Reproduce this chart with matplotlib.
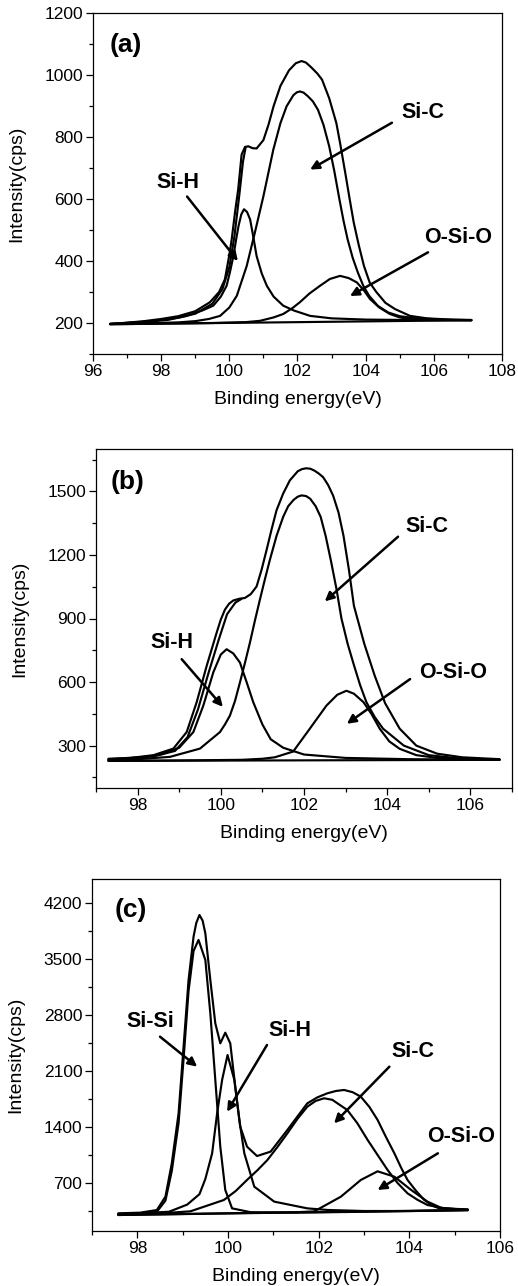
import matplotlib
matplotlib.use("Agg")
import matplotlib.pyplot as plt
from matplotlib.ticker import MultipleLocator

plt.rcParams['font.family'] = ['Liberation Sans', 'DejaVu Sans']

# ---------------- Panel (a) data ----------------
a_env_x = [96.5, 97.0, 97.5, 98.0, 98.5, 99.0, 99.43, 99.7, 99.87, 100.0, 100.07, 100.17, 100.26, 100.36,
           100.46, 100.56, 100.68, 100.8, 101.0, 101.15, 101.3, 101.5, 101.75, 101.95, 102.12, 102.25, 102.4,
           102.58, 102.72, 102.93, 103.14, 103.25, 103.4, 103.53, 103.65, 103.8, 103.95, 104.12, 104.32, 104.58,
           104.86, 105.3, 105.8, 106.5, 107.1]
a_env_y = [197, 201, 206, 213, 222, 238, 267, 300, 341, 420, 470, 560, 631, 743,
           768, 770, 764, 763, 790, 840, 900, 965, 1015, 1038, 1045, 1040, 1025,
           1005, 985, 925, 845, 780, 685, 600, 524, 450, 384, 330, 299, 265,
           245, 223, 215, 211, 210]
a_fit_x = [96.5, 97.5, 98.5, 99.0, 99.5, 99.8, 100.0, 100.15, 100.3, 100.4, 100.48]
a_fit_y = [197, 204, 217, 230, 262, 310, 380, 480, 620, 720, 768]
a_sic_x = [96.5, 97.5, 98.5, 99.0, 99.4, 99.73, 100.0, 100.22, 100.51, 100.75, 101.0, 101.29, 101.5, 101.68,
           101.88, 101.98, 102.07, 102.18, 102.3, 102.45, 102.6, 102.76, 102.93, 103.08, 103.23, 103.35, 103.47,
           103.62, 103.77, 103.93, 104.1, 104.36, 104.66, 105.0, 105.5, 106.3, 107.1]
a_sic_y = [197, 199, 202, 206, 213, 223, 250, 288, 384, 492, 609, 759, 845, 899,
           935, 944, 947, 943, 932, 915, 888, 840, 770, 690, 599, 530, 470,
           410, 363, 320, 288, 255, 234, 222, 215, 211, 209]
a_sih_x = [96.5, 97.5, 98.2, 98.75, 99.2, 99.53, 99.75, 99.92, 100.02, 100.12, 100.2, 100.27, 100.35, 100.43,
           100.52, 100.61, 100.7, 100.8, 100.95, 101.1, 101.3, 101.58, 101.9, 102.37, 103.0, 104.0, 105.0,
           106.0, 107.1]
a_sih_y = [197, 203, 210, 223, 240, 256, 285, 320, 365, 416, 470, 513, 550, 567,
           558, 534, 480, 416, 360, 320, 285, 256, 240, 223, 215, 211, 210,
           209, 209]
a_osio_x = [96.5, 98.0, 99.5, 100.5, 100.9, 101.3, 101.58, 101.85, 102.07, 102.35, 102.66, 102.95, 103.25,
            103.5, 103.74, 103.95, 104.13, 104.4, 104.71, 105.0, 105.3, 106.0, 107.1]
a_osio_y = [196, 198, 200, 203, 207, 218, 229, 248, 267, 295, 320, 342, 352,
            345, 331, 305, 277, 250, 229, 218, 213, 210, 209]
a_bg_x = [96.5, 107.1]
a_bg_y = [196, 209]

# ---------------- Panel (b) data ----------------
b_env_x = [97.3, 97.8, 98.38, 98.86, 99.18, 99.42, 99.66, 99.9, 100.0, 100.1, 100.2, 100.3, 100.44, 100.58,
           100.72, 100.86, 100.98, 101.1, 101.22, 101.34, 101.5, 101.66, 101.85, 101.95, 102.05, 102.15, 102.25,
           102.35, 102.46, 102.58, 102.7, 102.83, 102.95, 103.08, 103.2, 103.45, 103.7, 103.95, 104.3, 104.7,
           105.2, 105.8, 106.7]
b_env_y = [238, 241, 255, 286, 364, 505, 676, 833, 895, 942, 970, 985, 993, 997,
           1015, 1051, 1130, 1223, 1320, 1411, 1490, 1552, 1595, 1605, 1609, 1607, 1598,
           1585, 1567, 1530, 1480, 1400, 1290, 1130, 960, 780, 630, 500, 380, 300,
           262, 245, 236]
b_fit_x = [97.3, 98.4, 98.9, 99.2, 99.45, 99.7, 99.95, 100.15, 100.35, 100.5]
b_fit_y = [236, 250, 275, 340, 470, 640, 800, 920, 975, 993]
b_sic_x = [97.3, 98.0, 98.78, 99.5, 99.98, 100.1, 100.22, 100.34, 100.46, 100.58, 100.7, 100.82, 100.94,
           101.06, 101.18, 101.34, 101.5, 101.62, 101.75, 101.85, 101.94, 102.05, 102.15, 102.28, 102.4, 102.52,
           102.65, 102.78, 102.9, 103.05, 103.2, 103.35, 103.5, 103.7, 103.9, 104.4, 105.0, 105.8, 106.7]
b_sic_y = [231, 236, 247, 286, 364, 400, 442, 510, 598, 690, 786, 890, 989,
           1085, 1177, 1290, 1380, 1430, 1460, 1475, 1481, 1478, 1465, 1430, 1380, 1290,
           1170, 1040, 900, 780, 680, 585, 505, 435, 380, 300, 255, 238, 233]
b_sih_x = [97.3, 98.0, 98.6, 99.0, 99.34, 99.58, 99.82, 100.0, 100.14, 100.3, 100.46, 100.62, 100.78, 101.0,
           101.2, 101.5, 102.0, 103.0, 104.5, 106.7]
b_sih_y = [233, 240, 260, 290, 364, 489, 646, 730, 755, 735, 692, 600, 505, 400,
           330, 290, 258, 242, 236, 233]
b_osio_x = [97.3, 99.0, 100.5, 101.0, 101.3, 101.74, 102.14, 102.54, 102.8, 103.02, 103.2, 103.43, 103.62,
            103.82, 104.05, 104.3, 104.7, 105.2, 106.7]
b_osio_y = [228, 230, 233, 238, 245, 272, 380, 489, 540, 559, 545, 505, 450,
            380, 320, 285, 255, 242, 234]
b_bg_x = [97.3, 106.7]
b_bg_y = [228, 233]

# ---------------- Panel (c) data ----------------
c_env_x = [97.58, 98.06, 98.43, 98.62, 98.76, 98.91, 99.02, 99.13, 99.24, 99.3, 99.37, 99.44, 99.5, 99.61,
           99.72, 99.83, 99.94, 100.05, 100.16, 100.27, 100.42, 100.64, 100.94, 101.31, 101.53, 101.75, 101.97,
           102.19, 102.38, 102.56, 102.75, 102.93, 103.12, 103.3, 103.48, 103.67, 103.82, 103.96, 104.15,
           104.33, 104.5, 104.66, 105.29]
c_env_y = [321, 329, 362, 529, 946, 1571, 2404, 3238, 3779, 3950, 4050, 3980, 3821, 3238,
           2696, 2446, 2579, 2446, 1904, 1404, 1154, 1037, 1092, 1363, 1530, 1696, 1770,
           1821, 1850, 1863, 1835, 1779, 1650, 1488, 1280, 1071, 890, 738, 600,
           488, 420, 383, 371]
c_sisi_x = [97.58, 98.0, 98.43, 98.62, 98.76, 98.91, 99.02, 99.13, 99.24, 99.35, 99.5, 99.61, 99.72, 99.83,
            99.94, 100.09, 100.5, 101.5, 103.0, 105.29]
c_sisi_y = [310, 318, 340, 480, 850, 1450, 2250, 3100, 3600, 3738, 3488, 2821, 1988, 1154,
            613, 383, 335, 330, 340, 360]
c_sih_x = [97.58, 98.2, 98.7, 99.1, 99.37, 99.5, 99.65, 99.76, 99.87, 99.99, 100.14, 100.25, 100.36, 100.58,
           101.02, 101.75, 102.19, 103.0, 104.0, 105.29]
c_sih_y = [312, 325, 341, 430, 560, 750, 1071, 1571, 1988, 2300, 1988, 1488, 1071, 654,
           467, 383, 363, 350, 350, 362]
c_sic_x = [97.58, 98.5, 99.17, 99.91, 100.17, 100.42, 100.65, 100.87, 101.09, 101.31, 101.53, 101.75, 101.93,
           102.12, 102.3, 102.63, 102.85, 103.08, 103.3, 103.52, 103.74, 103.96, 104.18, 104.4, 104.8, 105.29]
c_sic_y = [305, 320, 346, 488, 600, 738, 860, 988, 1150, 1321, 1500, 1654, 1725,
           1759, 1740, 1613, 1450, 1238, 1050, 863, 700, 571, 490, 425, 380, 365]
c_osio_x = [97.58, 101.5, 101.9, 102.12, 102.49, 102.93, 103.3, 103.67, 104.04, 104.4, 104.7, 105.29]
c_osio_y = [300, 335, 345, 413, 529, 738, 846, 779, 613, 467, 390, 362]
c_bg_x = [97.58, 105.29]
c_bg_y = [300, 362]

# ---------------- Axes settings ----------------
a_xlim, a_ylim = (96, 108), (100, 1200)
b_xlim, b_ylim = (97, 107), (100, 1700)
c_xlim, c_ylim = (97, 106), (100, 4500)
a_yticks = [200, 400, 600, 800, 1000, 1200]
b_yticks = [300, 600, 900, 1200, 1500]
c_yticks = [700, 1400, 2100, 2800, 3500, 4200]
a_xticks = [96, 98, 100, 102, 104, 106, 108]
b_xticks = [98, 100, 102, 104, 106]
c_xticks = [98, 100, 102, 104, 106]

fig = plt.figure(figsize=(5.18, 12.86), dpi=100)
W, H = 518, 1286


def make_ax(l, r, t, b):
    return fig.add_axes([l / W, 1 - b / H, (r - l) / W, (b - t) / H])


axA = make_ax(93, 502, 13, 354)
axB = make_ax(96, 512, 449, 788)
axC = make_ax(92, 500, 879, 1231)

LW = 1.55


def style(ax, xlim, ylim, xticks, yticks, ymin):
    ax.set_xlim(*xlim)
    ax.set_ylim(*ylim)
    ax.set_xticks(xticks)
    ax.set_yticks(yticks)
    ax.xaxis.set_minor_locator(MultipleLocator(1))
    ax.yaxis.set_minor_locator(MultipleLocator(ymin))
    ax.tick_params(which='major', direction='out', length=5, width=0.9, labelsize=12.5, pad=2)
    ax.tick_params(which='minor', direction='out', length=3, width=0.9)
    ax.tick_params(top=False, right=False, which='both')
    for s in ax.spines.values():
        s.set_linewidth(0.9)
    ax.set_xlabel('Binding energy(eV)', fontsize=14, labelpad=9)
    ax.set_ylabel('Intensity(cps)', fontsize=14, labelpad=14)


def curves(ax, pairs):
    for xs, ys in pairs:
        ax.plot(xs, ys, color='black', lw=LW, solid_capstyle='round', solid_joinstyle='round')


def label(ax, txt, pos, start, tip):
    ax.text(pos[0], pos[1], txt, fontsize=15.5, fontweight='bold', ha='center', va='center')
    ax.annotate('', xy=tip, xytext=start,
                arrowprops=dict(arrowstyle='-|>', lw=1.8, color='black', mutation_scale=13,
                                shrinkA=0, shrinkB=0))


# Panel (a)
curves(axA, [(a_env_x, a_env_y), (a_fit_x, a_fit_y), (a_sic_x, a_sic_y), (a_sih_x, a_sih_y),
             (a_osio_x, a_osio_y), (a_bg_x, a_bg_y)])
style(axA, a_xlim, a_ylim, a_xticks, a_yticks, 100)
axA.text(96.5, 1097, '(a)', fontsize=19, fontweight='bold', ha='left', va='center')
label(axA, 'Si-C', (105.68, 878), (104.77, 846), (102.37, 695))
label(axA, 'Si-H', (98.49, 653), (98.76, 608), (100.25, 400))
label(axA, 'O-Si-O', (106.71, 477), (105.83, 428), (103.54, 287))

# Panel (b)
curves(axB, [(b_env_x, b_env_y), (b_fit_x, b_fit_y), (b_sic_x, b_sic_y), (b_sih_x, b_sih_y),
             (b_osio_x, b_osio_y), (b_bg_x, b_bg_y)])
style(axB, b_xlim, b_ylim, b_xticks, b_yticks, 150)
axB.text(97.34, 1544, '(b)', fontsize=19, fontweight='bold', ha='left', va='center')
label(axB, 'Si-C', (104.96, 1333), (104.26, 1286), (102.5, 981))
label(axB, 'Si-H', (98.83, 787), (99.06, 708), (100.05, 483))
label(axB, 'O-Si-O', (105.58, 647), (104.55, 614), (103.03, 403))

# Panel (c)
curves(axC, [(c_env_x, c_env_y), (c_sisi_x, c_sisi_y), (c_sih_x, c_sih_y), (c_sic_x, c_sic_y),
             (c_osio_x, c_osio_y), (c_bg_x, c_bg_y)])
style(axC, c_xlim, c_ylim, c_xticks, c_yticks, 350)
axC.text(97.51, 4112, '(c)', fontsize=19, fontweight='bold', ha='left', va='center')
label(axC, 'Si-Si', (98.28, 2716), (98.5, 2529), (99.32, 2154))
label(axC, 'Si-H', (101.36, 2612), (100.86, 2425), (99.98, 1591))
label(axC, 'Si-C', (104.07, 2341), (103.56, 2154), (102.34, 1446))
label(axC, 'O-Si-O', (105.14, 1279), (104.63, 1071), (103.3, 613))

fig.savefig('out.png', dpi=100)
